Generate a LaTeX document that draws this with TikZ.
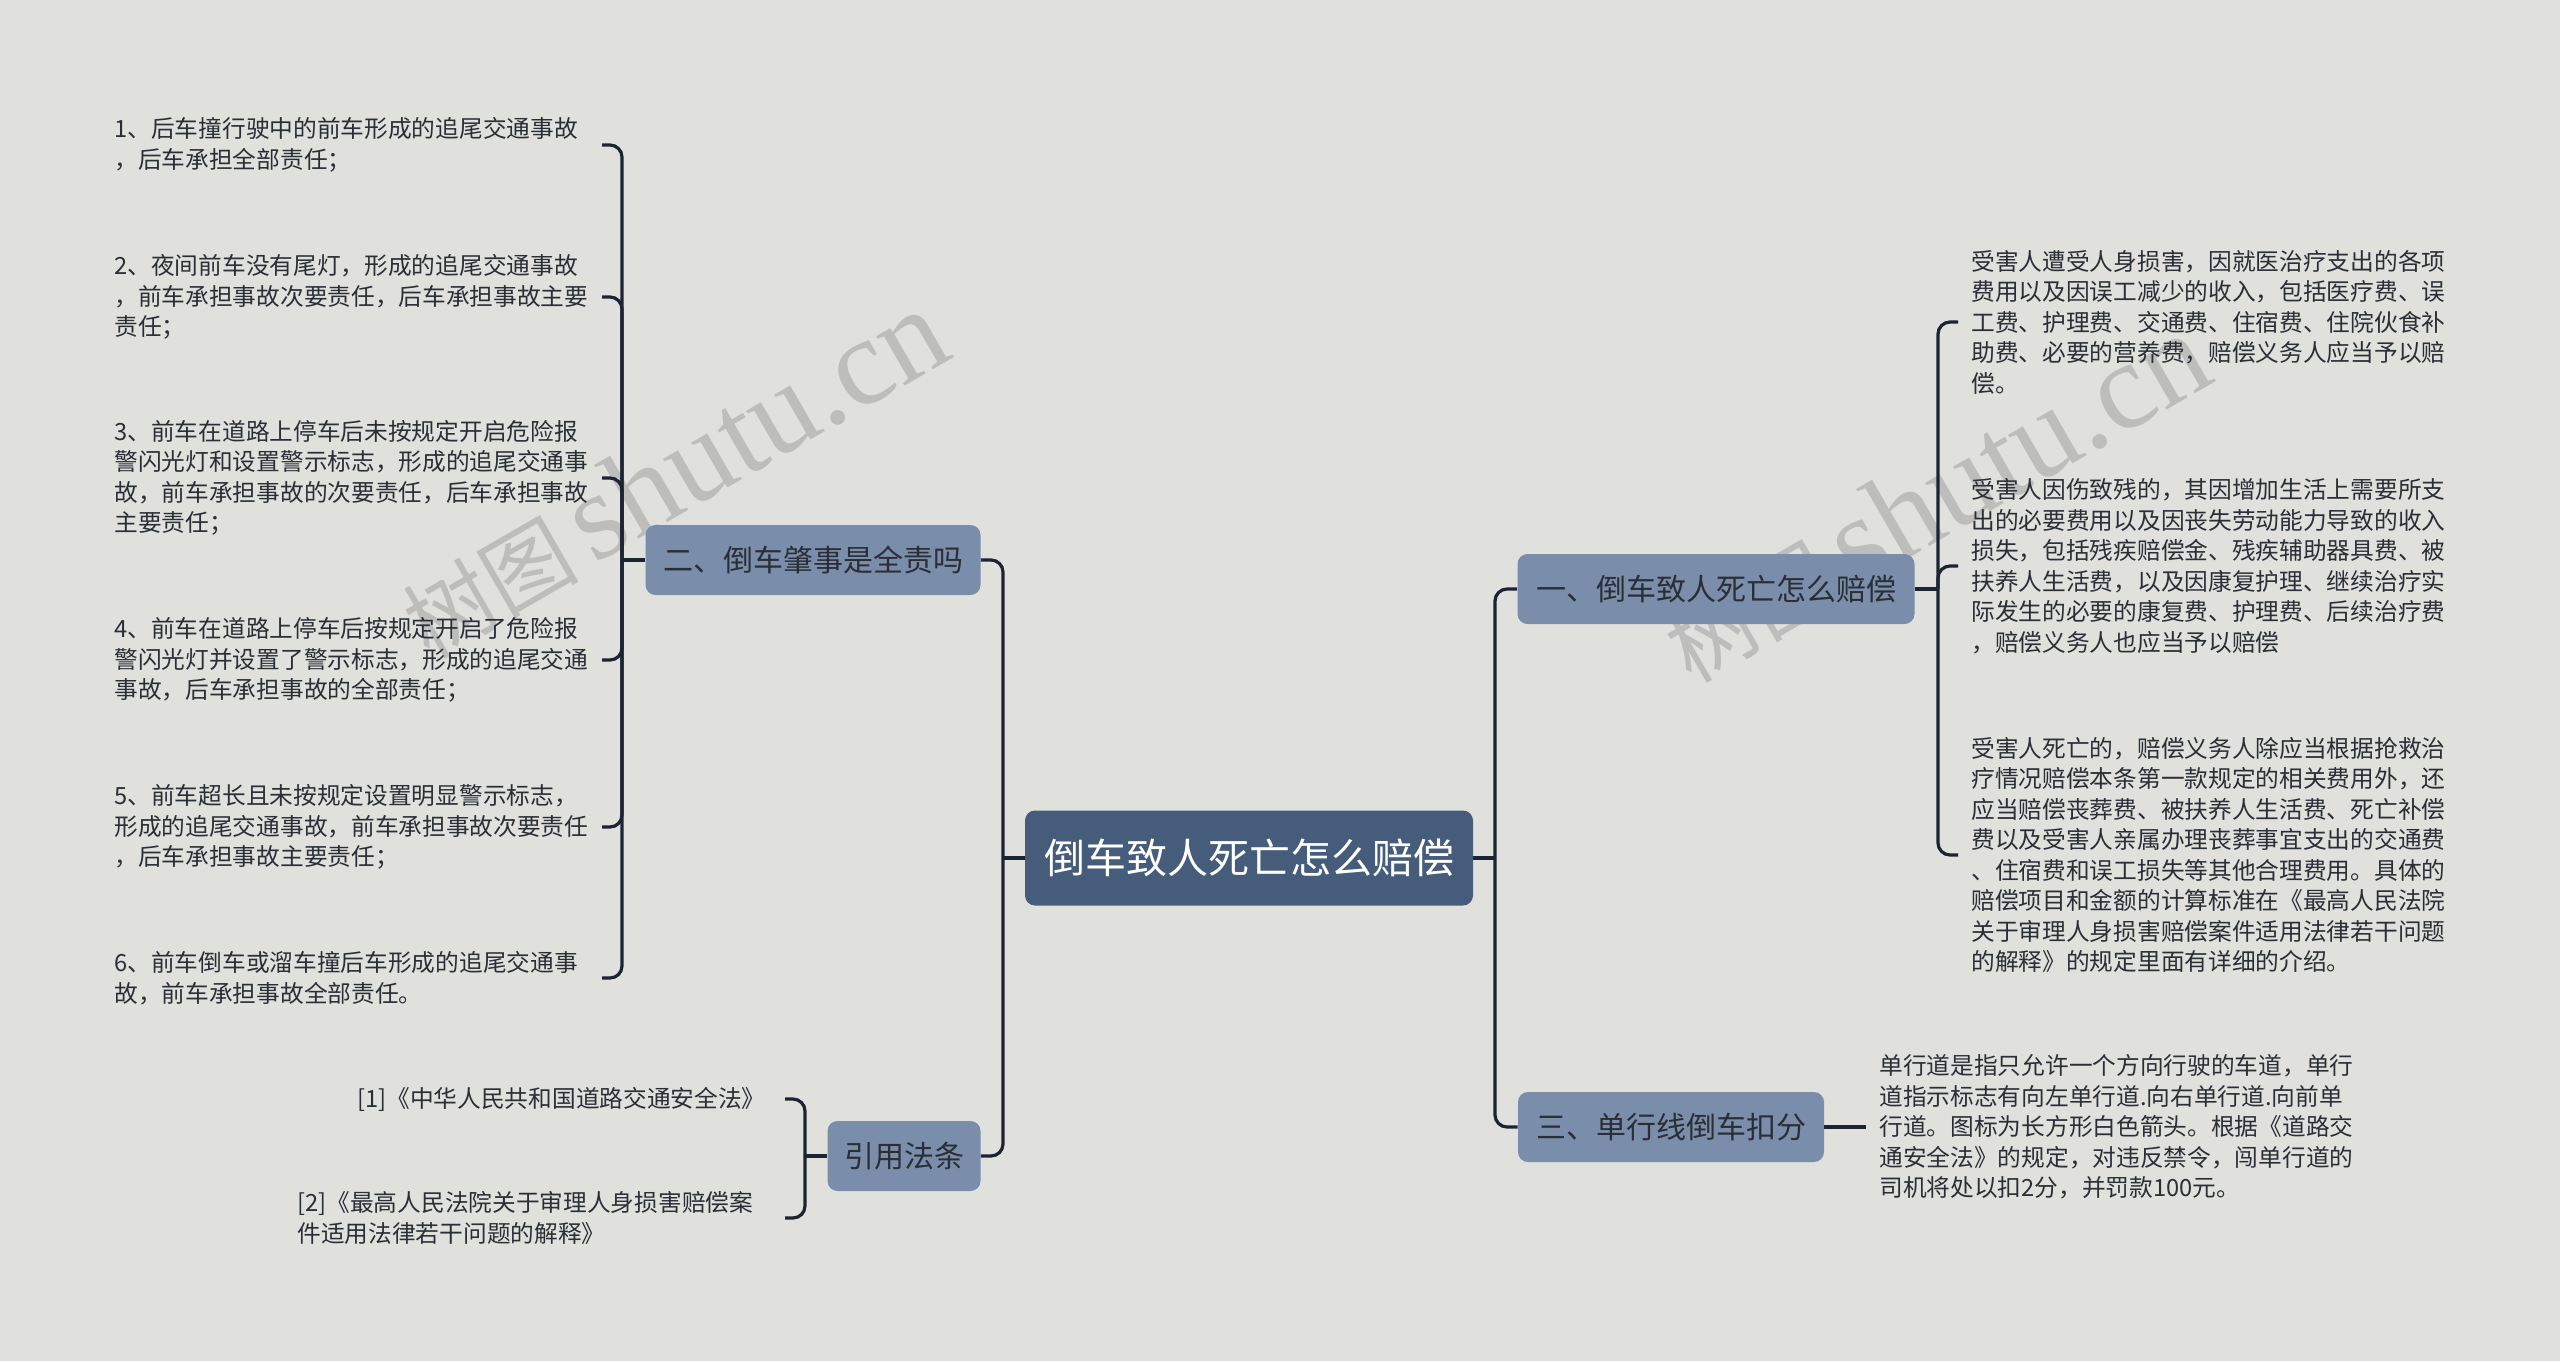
\documentclass[tikz,border=0pt]{standalone}
\usepackage{fontspec}
\setmainfont{Noto Sans CJK SC}
\newfontfamily\wmlatin{Liberation Serif}
\definecolor{bgc}{HTML}{E0E1DD}
\definecolor{rootc}{HTML}{455C7B}
\definecolor{lvc}{HTML}{7A8DAB}
\definecolor{linec}{HTML}{1C2333}
\definecolor{txtc}{HTML}{2A2E35}
\definecolor{wmc}{HTML}{BDBDBB}
\begin{document}
\begin{tikzpicture}[x=0.5pt,y=-0.5pt,
  conn/.style={draw=linec, line width=1.6pt},
  rconn/.style={conn, rounded corners=6pt},
  rootbox/.style={fill=rootc, rounded corners=5pt, text=white, font=\fontsize{20.5pt}{24pt}\selectfont, minimum width=224pt, minimum height=47.5pt, inner sep=0pt},
  lvbox/.style={fill=lvc, rounded corners=5pt, text=txtc, font=\fontsize{15pt}{18pt}\selectfont, minimum height=35pt, inner sep=0pt},
  leaf/.style={text=txtc, font=\fontsize{11.85pt}{15.25pt}\selectfont, align=left, inner sep=0pt, anchor=west},
  wm/.style={text=wmc, rotate=30, inner sep=0pt}
]
\fill[bgc] (0,0) rectangle (2560,1361);
\useasboundingbox (0,0) rectangle (2560,1361);
\clip (0,0) rectangle (2560,1361);

% watermarks
\node[wm] (wm1) at (673,474) {\fontsize{44pt}{50pt}\selectfont 树图\,\wmlatin\fontsize{62pt}{66pt}\selectfont shutu.cn};
\node[wm] (wm2) at (1935,498) {\fontsize{44pt}{50pt}\selectfont 树图\,\wmlatin\fontsize{62pt}{66pt}\selectfont shutu.cn};

% main nodes
\node[rootbox] (root) at (1249,858) {倒车致人死亡怎么赔偿};
\node[lvbox, minimum width=198.5pt] (n1) at (1716,589) {一、倒车致人死亡怎么赔偿};
\node[lvbox, minimum width=167.5pt] (n2) at (813,560) {二、倒车肇事是全责吗};
\node[lvbox, minimum width=153pt] (n3) at (1671,1127) {三、单行线倒车扣分};
\node[lvbox, minimum width=76.5pt] (n4) at (904,1156) {引用法条};

% trunk connectors
\coordinate (jl) at (1003,858);
\coordinate (jr) at (1495,858);
\draw[conn] (root.west) -- (jl);
\draw[rconn] (jl) |- (n2.east);
\draw[rconn] (jl) |- (n4.east);
\draw[conn] (root.east) -- (jr);
\draw[rconn] (jr) |- (n1.west);
\draw[rconn] (jr) |- (n3.west);

% left leaves (二)
\node[leaf] (l1) at (114,145) {1、后车撞行驶中的前车形成的追尾交通事故\\，后车承担全部责任；};
\node[leaf] (l2) at (114,297) {2、夜间前车没有尾灯，形成的追尾交通事故\\，前车承担事故次要责任，后车承担事故主要\\责任；};
\node[leaf] (l3) at (114,478) {3、前车在道路上停车后未按规定开启危险报\\警闪光灯和设置警示标志，形成的追尾交通事\\故，前车承担事故的次要责任，后车承担事故\\主要责任；};
\node[leaf] (l4) at (114,660) {4、前车在道路上停车后按规定开启了危险报\\警闪光灯并设置了警示标志，形成的追尾交通\\事故，后车承担事故的全部责任；};
\node[leaf] (l5) at (114,827) {5、前车超长且未按规定设置明显警示标志，\\形成的追尾交通事故，前车承担事故次要责任\\，后车承担事故主要责任；};
\node[leaf] (l6) at (114,978) {6、前车倒车或溜车撞后车形成的追尾交通事\\故，前车承担事故全部责任。};

\coordinate (b2) at (622,560);
\draw[conn] (n2.west) -- (b2);
\coordinate (s1) at (602,145);
\coordinate (s2) at (602,297);
\coordinate (s3) at (602,478);
\coordinate (s4) at (602,660);
\coordinate (s5) at (602,827);
\coordinate (s6) at (602,978);
\foreach \s in {s1,s2,s3,s4,s5,s6} \draw[rconn] (b2) |- (\s);

% citations
\node[leaf, anchor=east] (c1) at (766,1099) {[1]《中华人民共和国道路交通安全法》};
\node[leaf] (c2) at (297,1218) {[2]《最高人民法院关于审理人身损害赔偿案\\件适用法律若干问题的解释》};
\coordinate (b4) at (805,1156);
\draw[conn] (n4.west) -- (b4);
\coordinate (t1) at (785,1099);
\coordinate (t2) at (785,1218);
\draw[rconn] (b4) |- (t1);
\draw[rconn] (b4) |- (t2);

% right leaves (一)
\node[leaf] (r1) at (1971,322) {受害人遭受人身损害，因就医治疗支出的各项\\费用以及因误工减少的收入，包括医疗费、误\\工费、护理费、交通费、住宿费、住院伙食补\\助费、必要的营养费，赔偿义务人应当予以赔\\偿。};
\node[leaf] (r2) at (1971,566) {受害人因伤致残的，其因增加生活上需要所支\\出的必要费用以及因丧失劳动能力导致的收入\\损失，包括残疾赔偿金、残疾辅助器具费、被\\扶养人生活费，以及因康复护理、继续治疗实\\际发生的必要的康复费、护理费、后续治疗费\\，赔偿义务人也应当予以赔偿};
\node[leaf] (r3) at (1971,855) {受害人死亡的，赔偿义务人除应当根据抢救治\\疗情况赔偿本条第一款规定的相关费用外，还\\应当赔偿丧葬费、被扶养人生活费、死亡补偿\\费以及受害人亲属办理丧葬事宜支出的交通费\\、住宿费和误工损失等其他合理费用。具体的\\赔偿项目和金额的计算标准在《最高人民法院\\关于审理人身损害赔偿案件适用法律若干问题\\的解释》的规定里面有详细的介绍。};
\coordinate (b1) at (1938,589);
\draw[conn] (n1.east) -- (b1);
\coordinate (u1) at (1958,322);
\coordinate (u2) at (1958,566);
\coordinate (u3) at (1958,855);
\foreach \u in {u1,u2,u3} \draw[rconn] (b1) |- (\u);

% right leaf (三)
\node[leaf] (r4) at (1879,1127) {单行道是指只允许一个方向行驶的车道，单行\\道指示标志有向左单行道.向右单行道.向前单\\行道。图标为长方形白色箭头。根据《道路交\\通安全法》的规定，对违反禁令，闯单行道的\\司机将处以扣2分，并罚款100元。};
\coordinate (v1) at (1866,1127);
\draw[conn] (n3.east) -- (v1);
\end{tikzpicture}
\end{document}
